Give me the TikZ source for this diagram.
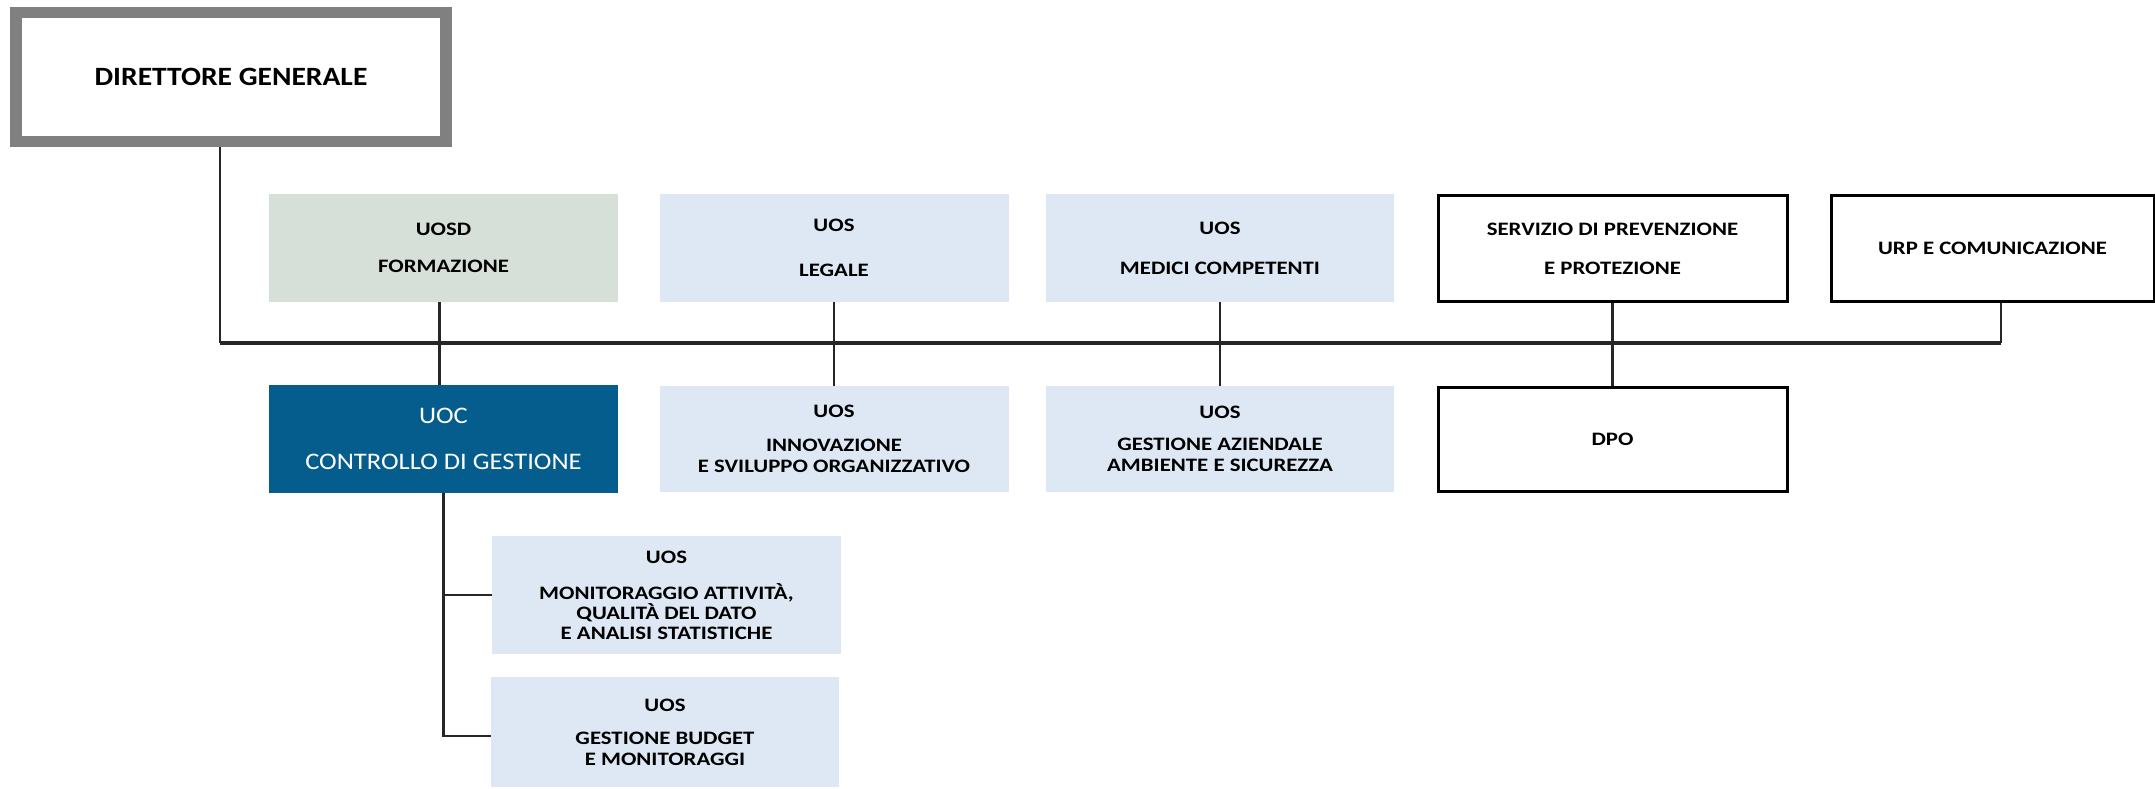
\documentclass[tikz,border=0pt]{standalone}
\usepackage{fontspec}
\setmainfont{Carlito}
\newfontfamily\unitfont{Carlito}[FakeStretch=1.2]
\newfontfamily\headfont{Carlito}[FakeStretch=1.12]
\definecolor{sagefill}{HTML}{D7E0D8}
\definecolor{paleblue}{HTML}{DEE8F4}
\definecolor{deepblue}{HTML}{055D8E}
\definecolor{frame}{HTML}{808080}
\definecolor{wire}{HTML}{262626}
\begin{document}
\begin{tikzpicture}[x=1pt,y=-1pt,
  unit/.style={rectangle, inner sep=0pt, minimum width=349pt, minimum height=108pt,
    align=center, font=\unitfont\bfseries\fontsize{19}{21}\selectfont},
  sage/.style={unit, fill=sagefill},
  pale/.style={unit, fill=paleblue},
  outlined/.style={unit, fill=white, draw=black, line width=3pt},
  link/.style={draw=wire, line width=2.6pt},
  busline/.style={draw=wire, line width=3.6pt}]
\useasboundingbox[fill=white] (0,0) rectangle (2155,789);

% top of the chart
\node[rectangle, draw=frame, line width=11.7pt, fill=white, minimum width=430pt,
  minimum height=129pt, font=\headfont\bfseries\fontsize{26.4}{30}\selectfont] (dg) at (231,77)
  {DIRETTORE GENERALE};

% staff units, first row
\node[sage] (form) at (443.5,248) {UOSD\\[16pt]FORMAZIONE};
\node[pale] (legale) at (834,248) {UOS\\[24pt]LEGALE};
\node[pale, minimum width=348pt] (medici) at (1220,248) {UOS\\[19pt]MEDICI COMPETENTI};
\node[outlined, minimum height=106pt] (spp) at (1612.5,248.5) {SERVIZIO DI PREVENZIONE\\[18pt]E PROTEZIONE};
\node[outlined, minimum width=323pt, minimum height=106pt] (urp) at (1992.5,248.5) {URP E COMUNICAZIONE};

% second row
\node[unit, fill=deepblue, text=white, font=\headfont\fontsize{23.7}{28}\selectfont] (uoc) at (443.5,439)
  {UOC\\[18pt]CONTROLLO DI GESTIONE};
\node[pale, minimum height=106pt] (innov) at (834,439) {UOS\\[13pt]INNOVAZIONE\\E SVILUPPO ORGANIZZATIVO};
\node[pale, minimum width=348pt, minimum height=106pt] (gaas) at (1220,439) {UOS\\[11pt]GESTIONE AZIENDALE\\AMBIENTE E SICUREZZA};
\node[outlined, minimum height=104pt] (dpo) at (1612.5,439.5) {DPO};

% units under the UOC
\node[pale, minimum height=118pt] (monit) at (666.5,595)
  {UOS\\[15pt]MONITORAGGIO ATTIVITÀ,\\[-1pt]QUALITÀ DEL DATO\\[-1pt]E ANALISI STATISTICHE};
\node[pale, minimum width=348pt, minimum height=110pt] (budget) at (665,732)
  {UOS\\[12pt]GESTIONE BUDGET\\E MONITORAGGI};

% main horizontal bus
\coordinate (busL) at (220,343);
\coordinate (busR) at (2001,343);
\draw[link] ([xshift=-11pt]dg.south) -- (busL);
\draw[busline] (busL) -- (busR);
\draw[link] (busR) -- (busR |- urp.south);

% vertical links through the bus
\draw[link] ([xshift=-4pt]form.south) -- ([xshift=-4pt]uoc.north);
\draw[link] (legale.south) -- (innov.north);
\draw[link] (medici.south) -- (gaas.north);
\draw[link] (spp.south) -- (dpo.north);

% branches of the UOC
\coordinate (bbranch) at (443.5,736);
\draw[link] (uoc.south) -- (bbranch) -- (bbranch -| budget.west);
\draw[link] (uoc.south |- monit.west) -- (monit.west);
\end{tikzpicture}
\end{document}
